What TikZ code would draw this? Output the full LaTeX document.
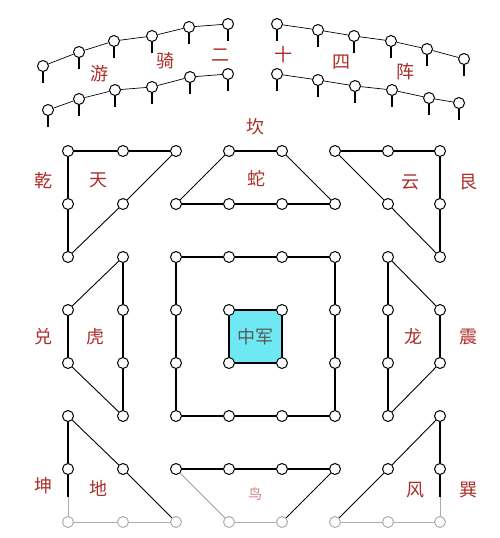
\documentclass[tikz,border=0pt]{standalone}
\usepackage{fontspec}
\newfontfamily\cjk{Noto Sans CJK SC}
\definecolor{zhenred}{RGB}{172,45,40}
\definecolor{zhongcyan}{RGB}{110,232,242}
\tikzstyle{dot} = [circle,draw,fill=white,line width=1pt,inner sep=0pt,minimum size=11pt]
\tikzstyle{pale} = [dot,draw=gray!65]
\tikzstyle{flag} = [dot,append after command={(\tikzlastnode.south) edge[line width=1.2pt] ++(0pt,-11pt)}]

\begin{document}
\begin{tikzpicture}
		[
		x=1pt,y=-1pt,
		word/.style={text=zhenred,font=\cjk\fontsize{18}{18}\selectfont,inner sep=0pt},
		frame/.style={line width=1.3pt},
		slant/.style={line width=0.9pt},
		thin/.style={line width=0.7pt}
		]
		\useasboundingbox (0,0) rectangle (500,538);
		% youqi ershisi zhen
		\node[flag](a1) at (43,66) {};
		\node[flag](a2) at (79,52) {};
		\node[flag](a3) at (114,41) {};
		\node[flag](a4) at (152,36) {};
		\node[flag](a5) at (189,27) {};
		\node[flag](a6) at (228,24) {};
		\node[flag](b1) at (48,110) {};
		\node[flag](b2) at (79,99) {};
		\node[flag](b3) at (115,90) {};
		\node[flag](b4) at (152,87) {};
		\node[flag](b5) at (190,77) {};
		\node[flag](b6) at (228,74) {};
		\node[flag](c1) at (277,24) {};
		\node[flag](c2) at (318,30) {};
		\node[flag](c3) at (354,36) {};
		\node[flag](c4) at (391,41) {};
		\node[flag](c5) at (427,49) {};
		\node[flag](c6) at (464,59) {};
		\node[flag](d1) at (277,74) {};
		\node[flag](d2) at (318,80) {};
		\node[flag](d3) at (355,86) {};
		\node[flag](d4) at (392,90) {};
		\node[flag](d5) at (429,98) {};
		\node[flag](d6) at (459,103) {};
		\draw[thin] (a1) -- (a2) -- (a3) -- (a4) -- (a5) -- (a6);
		\draw[thin] (b1) -- (b2) -- (b3) -- (b4) -- (b5) -- (b6);
		\draw[thin] (c1) -- (c2) -- (c3) -- (c4) -- (c5) -- (c6);
		\draw[thin] (d1) -- (d2) -- (d3) -- (d4) -- (d5) -- (d6);
		\node[word](you) at (99,74) {游};
		\node[word](qi) at (165,61) {骑};
		\node[word](er) at (220,55) {二};
		\node[word](shi) at (283,55) {十};
		\node[word](si) at (341,62) {四};
		\node[word](zhen) at (405,72) {阵};

		% tian (qian)
		\node[dot](tian1) at (68,151) {};
		\node[dot](tian2) at (123,151) {};
		\node[dot](tian3) at (176,151) {};
		\node[dot](tian4) at (68,204) {};
		\node[dot](tian5) at (123,204) {};
		\node[dot](tian6) at (68,257) {};
		\draw[frame] (tian1) -- (tian2) -- (tian3);
		\draw[frame] (tian1) -- (tian4) -- (tian6);
		\draw[slant] (tian3) -- (tian5) -- (tian6);
		\node[word](qian) at (43,181) {乾};
		\node[word](tian) at (98,180) {天};

		% she (kan)
		\node[dot](she1) at (229,151) {};
		\node[dot](she2) at (282,151) {};
		\node[dot](she3) at (176,204) {};
		\node[dot](she4) at (229,204) {};
		\node[dot](she5) at (282,204) {};
		\node[dot](she6) at (335,204) {};
		\draw[frame] (she1) -- (she2);
		\draw[frame] (she3) -- (she4) -- (she5) -- (she6);
		\draw[slant] (she1) -- (she3);
		\draw[slant] (she2) -- (she6);
		\node[word](kan) at (255,127) {坎};
		\node[word](she) at (256,178) {蛇};

		% yun (gen)
		\node[dot](yun1) at (335,151) {};
		\node[dot](yun2) at (388,151) {};
		\node[dot](yun3) at (440,151) {};
		\node[dot](yun4) at (388,204) {};
		\node[dot](yun5) at (440,204) {};
		\node[dot](yun6) at (440,257) {};
		\draw[frame] (yun1) -- (yun2) -- (yun3);
		\draw[frame] (yun3) -- (yun5) -- (yun6);
		\draw[slant] (yun1) -- (yun4) -- (yun6);
		\node[word](yun) at (410,182) {云};
		\node[word](gen) at (468,182) {艮};

		% hu (dui)
		\node[dot](hu1) at (123,257) {};
		\node[dot](hu2) at (123,310) {};
		\node[dot](hu3) at (123,363) {};
		\node[dot](hu4) at (123,416) {};
		\node[dot](hu5) at (68,310) {};
		\node[dot](hu6) at (68,363) {};
		\draw[frame] (hu1) -- (hu2) -- (hu3) -- (hu4);
		\draw[frame] (hu5) -- (hu6);
		\draw[slant] (hu5) -- (hu1);
		\draw[slant] (hu6) -- (hu4);
		\node[word](dui) at (43,337) {兑};
		\node[word](hu) at (95,337) {虎};

		% long (zhen)
		\node[dot](long1) at (388,257) {};
		\node[dot](long2) at (388,310) {};
		\node[dot](long3) at (388,363) {};
		\node[dot](long4) at (388,416) {};
		\node[dot](long5) at (440,310) {};
		\node[dot](long6) at (440,363) {};
		\draw[frame] (long1) -- (long2) -- (long3) -- (long4);
		\draw[frame] (long5) -- (long6);
		\draw[slant] (long1) -- (long5);
		\draw[slant] (long4) -- (long6);
		\node[word](long) at (413,337) {龙};
		\node[word](zhenz) at (468,337) {震};

		% zhongjun
		\fill[zhongcyan] (229,310) rectangle (282,363);
		\node[dot](mid1) at (229,310) {};
		\node[dot](mid2) at (282,310) {};
		\node[dot](mid3) at (282,363) {};
		\node[dot](mid4) at (229,363) {};
		\draw[frame] (mid1) -- (mid2) -- (mid3) -- (mid4) -- (mid1);
		\node[word,text=black!65](zhong) at (255,337) {中军};
		\node[dot](sq1) at (176,257) {};
		\node[dot](sq2) at (229,257) {};
		\node[dot](sq3) at (282,257) {};
		\node[dot](sq4) at (335,257) {};
		\node[dot](sq5) at (335,310) {};
		\node[dot](sq6) at (335,363) {};
		\node[dot](sq7) at (335,416) {};
		\node[dot](sq8) at (282,416) {};
		\node[dot](sq9) at (229,416) {};
		\node[dot](sq10) at (176,416) {};
		\node[dot](sq11) at (176,363) {};
		\node[dot](sq12) at (176,310) {};
		\draw[frame] (sq1) -- (sq2) -- (sq3) -- (sq4) -- (sq5) -- (sq6) -- (sq7) -- (sq8) -- (sq9) -- (sq10) -- (sq11) -- (sq12) -- (sq1);

		% di (kun)
		\node[dot](di1) at (68,416) {};
		\node[dot](di2) at (68,469) {};
		\node[pale](di3) at (68,522) {};
		\node[dot](di4) at (123,469) {};
		\node[pale](di5) at (123,522) {};
		\node[pale](di6) at (176,522) {};
		\coordinate (dicut) at (68,497);
		\draw[frame] (di1) -- (di2) -- (dicut);
		\draw[gray!65,line width=0.9pt] (dicut) -- (di3);
		\draw[gray!65,line width=0.9pt] (di3) -- (di5) -- (di6);
		\draw[slant] (di1) -- (di4) -- (di6);
		\node[word](kun) at (43,486) {坤};
		\node[word](di) at (98,488) {地};

		% niao
		\node[dot](niao1) at (176,469) {};
		\node[dot](niao2) at (229,469) {};
		\node[dot](niao3) at (282,469) {};
		\node[dot](niao4) at (335,469) {};
		\node[pale](niao5) at (229,522) {};
		\node[pale](niao6) at (282,522) {};
		\draw[frame] (niao1) -- (niao2) -- (niao3) -- (niao4);
		\draw[slant,gray!75] (niao1) -- (niao5);
		\draw[slant] (niao4) -- (niao6);
		\draw[gray!65,line width=0.9pt] (niao5) -- (niao6);
		\node[word,text=zhenred!60,font=\cjk\fontsize{14}{14}\selectfont](niao) at (255,494) {鸟};

		% feng (xun)
		\node[dot](feng1) at (440,416) {};
		\node[dot](feng2) at (440,469) {};
		\node[pale](feng3) at (440,522) {};
		\node[dot](feng4) at (388,469) {};
		\node[pale](feng5) at (388,522) {};
		\node[pale](feng6) at (335,522) {};
		\coordinate (fengcut) at (440,497);
		\draw[frame] (feng1) -- (feng2) -- (fengcut);
		\draw[gray!65,line width=0.9pt] (fengcut) -- (feng3);
		\draw[gray!65,line width=0.9pt] (feng3) -- (feng5) -- (feng6);
		\draw[slant] (feng1) -- (feng4) -- (feng6);
		\node[word](feng) at (415,490) {风};
		\node[word](xun) at (468,490) {巽};
		\end{tikzpicture}
\end{document}
